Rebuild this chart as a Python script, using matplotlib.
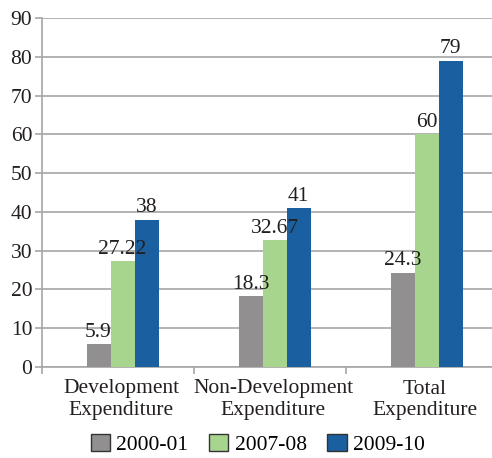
import numpy as np
import matplotlib.pyplot as plt

categories = ["Development\nExpenditure", "Non-Development\nExpenditure", "Total\nExpenditure"]
series = ["2000-01", "2007-08", "2009-10"]
v2000 = [5.9, 18.3, 24.3]
v2007 = [27.22, 32.67, 60]
v2009 = [38, 41, 79]
labels2000 = ["5.9", "18.3", "24.3"]
labels2007 = ["27.22", "32.67", "60"]
labels2009 = ["38", "41", "79"]
colors = ["#918f90", "#a8d58e", "#1a5fa0"]

plt.rcParams['font.family'] = ['Liberation Serif', 'DejaVu Serif']
fs = 15.5
tc = '#231f20'

fig = plt.figure(figsize=(4.92, 4.58), dpi=100)
ax = fig.add_axes([42/492, 91/458, 456/492, 349/458])

x = np.arange(len(categories))
w = 0.158
data = [v2000, v2007, v2009]
labs = [labels2000, labels2007, labels2009]
for i in range(3):
    bars = ax.bar(x + (i - 1)*w + 0.03, data[i], w, color=colors[i], label=series[i], zorder=3)
    for b, t in zip(bars, labs[i]):
        ax.text(b.get_x() + b.get_width()/2, b.get_height() + 0.6, t,
                ha='center', va='bottom', fontsize=fs, color=tc, zorder=5)

ax.set_xlim(-0.5, 2.5)
ax.set_ylim(0, 90)
ax.set_yticks(range(0, 91, 10))
ax.yaxis.grid(True, color='#a6a6a6', linewidth=1.2, zorder=0)
ax.set_xticks(x + 0.02)
ax.set_xticklabels(categories, fontsize=fs, color=tc, linespacing=1.2)
ax.set_xticks([-0.5, 0.5, 1.5, 2.5], minor=True)
ax.tick_params(axis='x', which='major', length=0, pad=9)
ax.tick_params(axis='x', which='minor', length=5, color='#a6a6a6', width=1.2)
ax.tick_params(axis='y', length=5, color='#a6a6a6', width=1.2, labelsize=fs, labelcolor=tc, pad=2)
for s in ['top', 'right']:
    ax.spines[s].set_visible(False)
for s in ['left', 'bottom']:
    ax.spines[s].set_color('#a6a6a6')
    ax.spines[s].set_linewidth(1.2)

handles = [plt.Rectangle((0, 0), 1, 1, facecolor=c, edgecolor='#333333', linewidth=1) for c in colors]
fig.legend(handles, series, loc='center', bbox_to_anchor=(0.524, 0.03), ncol=3, frameon=False,
           fontsize=fs, handlelength=0.9, handleheight=0.9, columnspacing=0.95, handletextpad=0.3)

fig.savefig("out.png", dpi=100)
